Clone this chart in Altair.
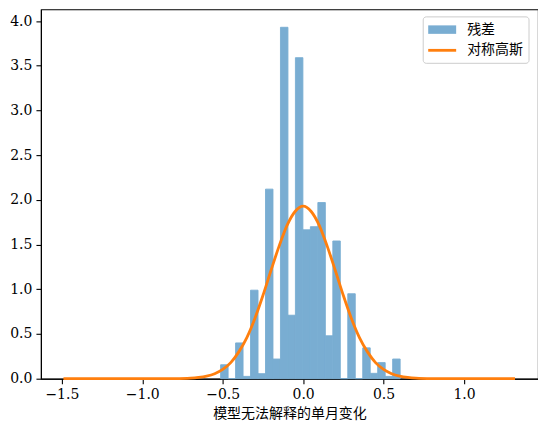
import altair as alt
import pandas as pd
import numpy as np

# Histogram (density) of residuals
bin_start = -0.513
bin_width = 0.0465
densities = [0.156, 0.0, 0.40, 0.026, 0.99, 0.056, 2.12, 0.22, 3.93, 0.71,
             3.59, 1.665, 1.70, 1.97, 0.48, 1.54, 0.0, 0.95, 0.0, 0.345,
             0.06, 0.18, 0.026, 0.22]

# Symmetric Gaussian curve
curve_x = [-1.49, -1.2, -1.0, -0.9, -0.8, -0.7, -0.65, -0.6, -0.55, -0.5, -0.45,
           -0.4, -0.35, -0.3, -0.25, -0.2, -0.15, -0.1, -0.05, 0.0,
           0.05, 0.1, 0.15, 0.2, 0.25, 0.3, 0.35, 0.4, 0.45, 0.5,
           0.55, 0.6, 0.65, 0.7, 0.8, 0.9, 1.0, 1.2, 1.317]
curve_y = [0.0, 0.0, 0.0, 0.0, 0.001, 0.006, 0.014, 0.029, 0.056, 0.104, 0.18,
           0.30, 0.46, 0.674, 0.93, 1.21, 1.48, 1.715, 1.87, 1.93,
           1.87, 1.715, 1.48, 1.21, 0.93, 0.674, 0.46, 0.30, 0.18, 0.104,
           0.056, 0.029, 0.014, 0.006, 0.001, 0.0, 0.0, 0.0, 0.0]

x_ticks = [-1.5, -1.0, -0.5, 0.0, 0.5, 1.0]
y_ticks = [0.0, 0.5, 1.0, 1.5, 2.0, 2.5, 3.0, 3.5, 4.0]

edges = [bin_start + i * bin_width for i in range(len(densities) + 1)]
hist_df = pd.DataFrame({"x0": edges[:-1], "x1": edges[1:], "density": densities})
curve_df = pd.DataFrame({"x": curve_x, "y": curve_y})

BAR = "#79add2"  # tab:blue at alpha 0.6 over white

W, H = 498, 370
xscale = alt.Scale(domain=[-1.63, 1.46], nice=False, zero=False)
yscale = alt.Scale(domain=[0, 4.13], nice=False)

xaxis = alt.Axis(values=x_ticks, format=".1f", title="模型无法解释的单月变化")
yaxis = alt.Axis(values=y_ticks, format=".1f", title=None)

bars = alt.Chart(hist_df).mark_rect(fill=BAR, stroke=BAR, strokeWidth=0.9).encode(
    x=alt.X("x0:Q", scale=xscale, axis=xaxis),
    x2="x1:Q",
    y=alt.Y("density:Q", scale=yscale, axis=yaxis),
    y2=alt.datum(0),
)

line = alt.Chart(curve_df).mark_line(color="#ff7f0e", strokeWidth=2.8, interpolate="monotone").encode(
    x=alt.X("x:Q", scale=xscale),
    y=alt.Y("y:Q", scale=yscale),
)

one = pd.DataFrame({"a": [0]})
leg_box = alt.Chart(one).mark_rect(fill="white", fillOpacity=0.8, stroke="#cccccc",
                                   strokeWidth=1, cornerRadius=3).encode(
    x=alt.value(383), x2=alt.value(489), y=alt.value(7.5), y2=alt.value(54))
leg_patch = alt.Chart(one).mark_rect(fill=BAR).encode(
    x=alt.value(388), x2=alt.value(416), y=alt.value(16), y2=alt.value(24.5))
leg_line = alt.Chart(one).mark_rule(color="#ff7f0e", strokeWidth=2.8).encode(
    x=alt.value(388), x2=alt.value(416), y=alt.value(41))
leg_t1 = alt.Chart(one).mark_text(text="残差", align="left", baseline="middle",
                                  font="Noto Sans CJK SC", fontSize=14, color="black").encode(
    x=alt.value(427), y=alt.value(20.5))
leg_t2 = alt.Chart(one).mark_text(text="对称高斯", align="left", baseline="middle",
                                  font="Noto Sans CJK SC", fontSize=14, color="black").encode(
    x=alt.value(427), y=alt.value(41))

chart = alt.layer(bars, line, leg_box, leg_patch, leg_line, leg_t1, leg_t2).properties(
    width=W, height=H,
    background="white",
    autosize=alt.AutoSizeParams(type="none"),
    padding={"left": 33, "top": 1, "right": 0, "bottom": 55},
).configure_view(
    stroke="black", strokeWidth=1.1
).configure_axis(
    grid=False,
    domainColor="black", domainWidth=1.1,
    tickColor="black", tickWidth=1.1, tickSize=5,
    labelFont="DejaVu Serif", labelFontSize=14, labelColor="black", labelPadding=4,
    titleFont="Noto Sans CJK SC", titleFontSize=14, titleFontWeight="normal", titleColor="black",
    titlePadding=5,
)

chart.save("out.html", embed_options={"renderer": "svg", "actions": False})
